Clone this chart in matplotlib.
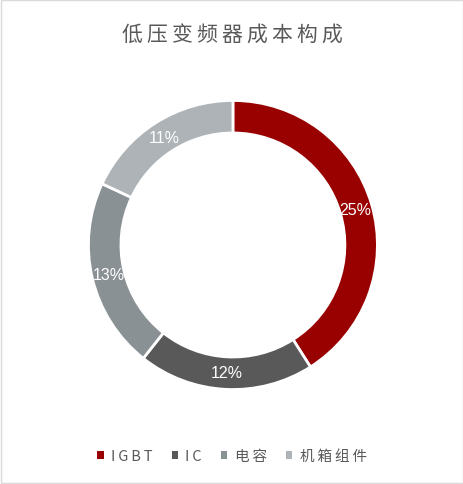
import matplotlib
matplotlib.use('Agg')
import matplotlib.pyplot as plt
from matplotlib.patches import Rectangle

plt.rcParams['font.family'] = ['Noto Sans CJK SC', 'DejaVu Sans']

# data
parts = ['IGBT', 'IC', '电容', '机箱组件']
shares = [25, 12, 13, 11]
colors = ['#990000', '#595959', '#8A9195', '#ADB3B6']
title = '低压变频器成本构成'
total = sum(shares)

fig = plt.figure(figsize=(4.64, 4.85), dpi=100)
ax = fig.add_axes([0.1875, 0.1918, 0.629, 0.602])

wedges, texts, autotexts = ax.pie(
    shares, colors=colors, startangle=90, counterclock=False, radius=1,
    autopct=lambda p: '%d%%' % round(p * total / 100), pctdistance=0.885,
    wedgeprops=dict(width=0.225, edgecolor='white', linewidth=2),
    textprops=dict(color='white', fontsize=11.5))
for t in autotexts:
    t.set_family(['Liberation Sans', 'DejaVu Sans'])
ax.set_xlim(-1.01, 1.01)
ax.set_ylim(-1.01, 1.01)
ax.set_aspect('auto')

# spaced-out title like the original
fig.text(0.5, 0.928, '\u2009'.join(title), ha='center', va='center',
         fontsize=15, color='#595959')

leg = fig.legend(wedges, ['\u2009'.join(p) for p in parts], loc='center',
                 bbox_to_anchor=(0.5, 0.057),
                 ncol=4, frameon=False, fontsize=10.5, handlelength=0.45,
                 handleheight=0.45, handletextpad=0.5, columnspacing=1.3)
for t in leg.get_texts():
    t.set_color('#595959')
for h in leg.legend_handles:
    h.set_edgecolor('none')

fig.patches.append(Rectangle((0.002, 0.002), 0.996, 0.996, transform=fig.transFigure,
                             fill=False, edgecolor='#D9D9D9', linewidth=1))

fig.savefig('out.png', dpi=100)
